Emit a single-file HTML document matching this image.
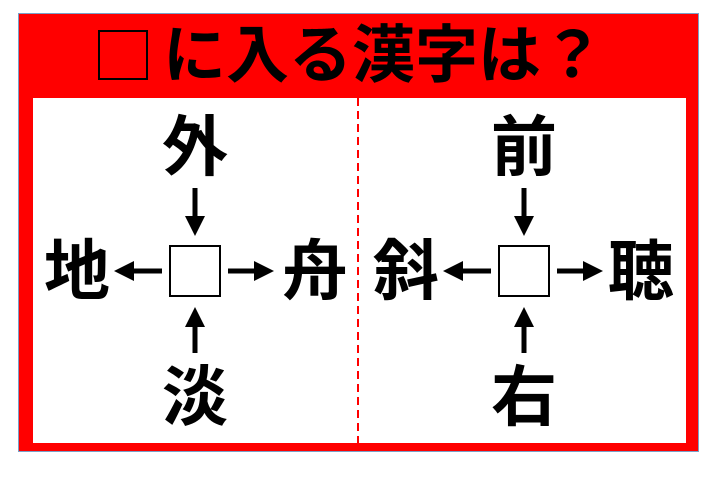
<!DOCTYPE html>
<html><head><meta charset="utf-8"><style>
body{margin:0;width:720px;height:493px;background:#fff;overflow:hidden;position:relative;font-family:"Liberation Sans","Noto Sans CJK JP",sans-serif}
.red{position:absolute;left:19px;top:14px;width:679px;height:437px;background:#f00;box-shadow:0 0 0 1px #7aa0c8}
.white{position:absolute;left:33px;top:98px;width:653px;height:345px;background:#fff}
.title{position:absolute;left:163px;top:20px;white-space:nowrap;font-size:63px;font-weight:bold;line-height:72px;color:#000}
.tbox{position:absolute;left:98px;top:30px;width:46px;height:46px;border:2px solid #000}
.dash{position:absolute;left:357px;top:98px;height:345px;border-left:2px dashed #f00}
.k{position:absolute;font-size:66px;font-weight:bold;line-height:66px;width:70px;text-align:center}
.box{position:absolute;width:48px;height:48px;border:2px solid #000;background:#fff}
</style></head><body>
<div class="red"></div><div class="white"></div>
<div class="tbox"></div>
<div class="title">に入る漢字は？</div>
<svg style="position:absolute;left:0;top:0" width="720" height="493">
<line x1="358" y1="98" x2="358" y2="443" stroke="#f00" stroke-width="2" stroke-dasharray="8,5"/>
<defs><marker id="a" markerWidth="4" markerHeight="4" refX="2" refY="2" orient="auto"><path d="M0,0 L4,2 L0,4z" fill="#000"/></marker></defs>
<g stroke="#000" stroke-width="5" marker-end="url(#a)">
<line x1="195" y1="188" x2="195" y2="226"/>
<line x1="195" y1="353" x2="195" y2="317"/>
<line x1="162" y1="271" x2="124" y2="271"/>
<line x1="228" y1="271" x2="264" y2="271"/>
<line x1="524" y1="188" x2="524" y2="226"/>
<line x1="524" y1="353" x2="524" y2="317"/>
<line x1="491" y1="271" x2="453" y2="271"/>
<line x1="557" y1="271" x2="593" y2="271"/>
</g></svg>
<div class="box" style="left:169px;top:245px"></div>
<div class="box" style="left:498px;top:245px"></div>
<div class="k" style="left:160px;top:114px">外</div>
<div class="k" style="left:160px;top:364px">淡</div>
<div class="k" style="left:42px;top:238px">地</div>
<div class="k" style="left:280px;top:238px">舟</div>
<div class="k" style="left:489px;top:114px">前</div>
<div class="k" style="left:489px;top:364px">右</div>
<div class="k" style="left:371px;top:238px">斜</div>
<div class="k" style="left:606px;top:238px">聴</div>
</body></html>
